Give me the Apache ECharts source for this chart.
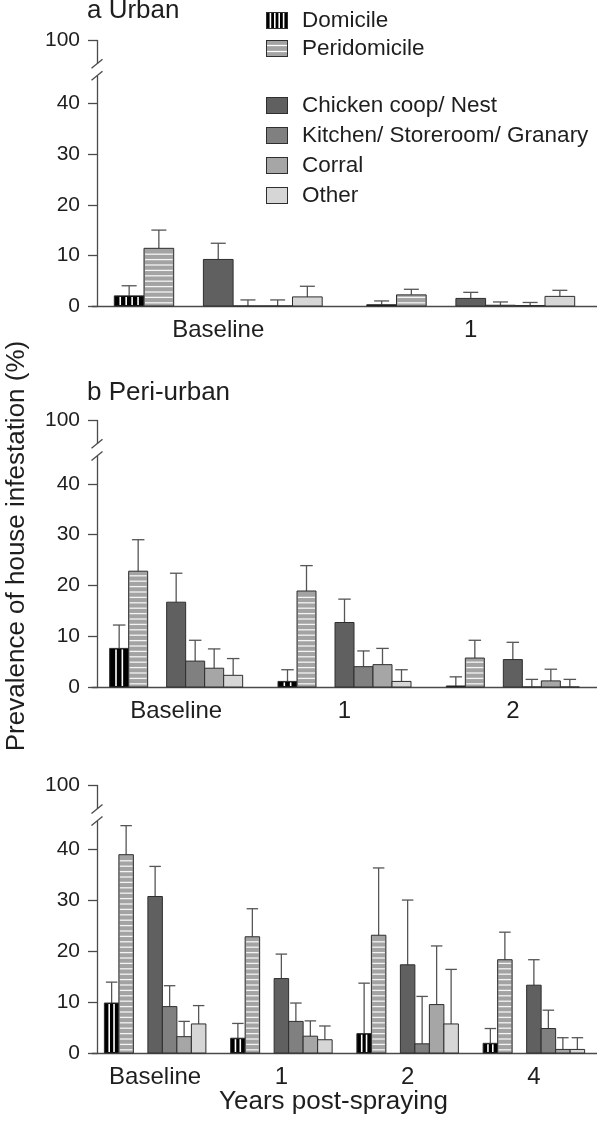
<!DOCTYPE html>
<html><head><meta charset="utf-8">
<script src="https://cdn.jsdelivr.net/npm/echarts@6/dist/echarts.min.js"></script>
<style>html,body{margin:0;padding:0;background:#fff}#c{width:597px;height:1122px}</style>
</head><body><div id="c"></div>
<script>
// ---------- DATA ----------
const seriesNames = ['Domicile', 'Peridomicile', 'Chicken coop/ Nest', 'Kitchen/ Storeroom/ Granary', 'Corral', 'Other'];
const panelTitles = ['a Urban', 'b Peri-urban', ''];
const urbanCategories = ['Baseline', '1'];
const periCategories = ['Baseline', '1', '2'];
const ruralCategories = ['Baseline', '1', '2', '4'];
const yTickValues = [0, 10, 20, 30, 40, 100];
const yAxisLabel = 'Prevalence of house infestation (%)';
const xAxisLabel = 'Years post-spraying';

// a Urban: mean and upper error limit
const urbanDomicile = [2.0, 0.25];        const urbanDomicileUp = [4.0, 1.0];
const urbanPeridomicile = [11.4, 2.2];    const urbanPeridomicileUp = [15.0, 3.3];
const urbanCoop = [9.2, 1.5];             const urbanCoopUp = [12.4, 2.7];
const urbanKitchen = [0, 0.15];           const urbanKitchenUp = [1.2, 0.8];
const urbanCorral = [0, 0.1];             const urbanCorralUp = [1.2, 0.7];
const urbanOther = [1.8, 1.9];            const urbanOtherUp = [3.9, 3.1];

// b Peri-urban
const periDomicile = [7.6, 1.1, 0.2];     const periDomicileUp = [12.2, 3.4, 2.0];
const periPeridomicile = [22.8, 18.9, 5.7]; const periPeridomicileUp = [29.0, 23.9, 9.2];
const periCoop = [16.7, 12.7, 5.4];       const periCoopUp = [22.4, 17.3, 8.8];
const periKitchen = [5.1, 4.0, 0];        const periKitchenUp = [9.2, 7.1, 1.5];
const periCorral = [3.7, 4.4, 1.2];       const periCorralUp = [7.5, 7.6, 3.5];
const periOther = [2.3, 1.1, 0];          const periOtherUp = [5.6, 3.4, 1.5];

// c (third panel)
const ruralDomicile = [9.8, 2.9, 3.8, 1.9];     const ruralDomicileUp = [13.9, 5.8, 13.7, 4.8];
const ruralPeridomicile = [38.9, 22.8, 23.1, 18.3]; const ruralPeridomicileUp = [44.6, 28.3, 36.3, 23.7];
const ruralCoop = [30.7, 14.6, 17.3, 13.3];     const ruralCoopUp = [36.6, 19.4, 30.0, 18.3];
const ruralKitchen = [9.1, 6.2, 1.8, 4.8];      const ruralKitchenUp = [13.2, 9.8, 11.1, 8.4];
const ruralCorral = [3.2, 3.3, 9.5, 0.7];       const ruralCorralUp = [6.2, 6.3, 21.0, 3.0];
const ruralOther = [5.7, 2.6, 5.7, 0.7];        const ruralOtherUp = [9.3, 5.3, 16.4, 3.0];

const breakStart = 45.5, breakEnd = 95.3, breakGap = 2.37;

// ---------- STYLE / LAYOUT ----------
const FONT = '"Liberation Sans", Arial, sans-serif';
const TXT = '#1e1e1e';
const AX = '#4a4a4a';
const gridLeft = 92, gridWidth = 508;
const panels = [
  { top: 40, height: 266, slot: 29.7, cap: 15, vStripes: 5, cats: urbanCategories,
    vals: [urbanDomicile, urbanPeridomicile, urbanCoop, urbanKitchen, urbanCorral, urbanOther],
    ups: [urbanDomicileUp, urbanPeridomicileUp, urbanCoopUp, urbanKitchenUp, urbanCorralUp, urbanOtherUp] },
  { top: 420, height: 267, slot: 19, cap: 12.5, vStripes: 3, cats: periCategories,
    vals: [periDomicile, periPeridomicile, periCoop, periKitchen, periCorral, periOther],
    ups: [periDomicileUp, periPeridomicileUp, periCoopUp, periKitchenUp, periCorralUp, periOtherUp] },
  { top: 785, height: 268, slot: 14.5, cap: 11.5, vStripes: 3, cats: ruralCategories,
    vals: [ruralDomicile, ruralPeridomicile, ruralCoop, ruralKitchen, ruralCorral, ruralOther],
    ups: [ruralDomicileUp, ruralPeridomicileUp, ruralCoopUp, ruralKitchenUp, ruralCorralUp, ruralOtherUp] }
];
const slotIndex = [-3, -2, 0, 1, 2, 3];
const kinds = ['v', 'h', 'p', 'p', 'p', 'p'];
const fills = ['#000000', '#a3a3a3', '#606060', '#808080', '#a6a6a6', '#d6d6d6'];

function makeRenderer(si, layout, kind, fill) {
  return function (params, api) {
    const idx = api.value(0), v = api.value(1), hi = api.value(2);
    const base = api.coord([idx, 0]);
    const top = api.coord([idx, v]);
    const up = api.coord([idx, hi]);
    const w = layout.slot;
    const cx = base[0] + si * w;
    const x0 = cx - w / 2;
    const h = base[1] - top[1];
    const ch = [];
    const eStyle = { stroke: '#555', lineWidth: 1.3 };
    ch.push({ type: 'line', shape: { x1: cx, y1: top[1], x2: cx, y2: up[1] }, style: eStyle });
    ch.push({ type: 'line', shape: { x1: cx - layout.cap / 2, y1: up[1], x2: cx + layout.cap / 2, y2: up[1] }, style: eStyle });
    ch.push({ type: 'rect', shape: { x: x0, y: top[1], width: w, height: h }, style: { fill: fill, stroke: '#2e2e2e', lineWidth: 1 } });
    if (kind === 'v' && h > 2) {
      const n = layout.vStripes;
      for (let k = 1; k < n; k++) {
        const x = x0 + k * w / n;
        ch.push({ type: 'line', shape: { x1: x, y1: top[1] + 1, x2: x, y2: base[1] - 1 }, style: { stroke: '#ffffff', lineWidth: 1.6 } });
      }
    }
    if (kind === 'h') {
      const sp = 5.4;
      for (let y = base[1] - sp / 2 - 0.5; y > top[1] + 1.5; y -= sp) {
        ch.push({ type: 'line', shape: { x1: x0 + 1, y1: y, x2: x0 + w - 1, y2: y }, style: { stroke: '#f4f4f4', lineWidth: 1.3 } });
      }
    }
    return { type: 'group', children: ch };
  };
}

function makeIcon(kind, fill) {
  const cv = document.createElement('canvas');
  cv.width = 44; cv.height = 34;
  const g = cv.getContext('2d');
  g.scale(2, 2);
  g.fillStyle = fill; g.fillRect(0, 0, 22, 17);
  g.strokeStyle = '#ffffff';
  if (kind === 'v') { g.lineWidth = 1.6; for (let k = 1; k < 5; k++) { const x = k * 22 / 5; g.beginPath(); g.moveTo(x, 1); g.lineTo(x, 16); g.stroke(); } }
  if (kind === 'h') { g.lineWidth = 1.3; [5.5, 11.5].forEach(y => { g.beginPath(); g.moveTo(1, y); g.lineTo(21, y); g.stroke(); }); }
  g.strokeStyle = '#2e2e2e'; g.lineWidth = 1; g.strokeRect(0.5, 0.5, 21, 16);
  return 'image://' + cv.toDataURL();
}

const grid = [], xAxis = [], yAxis = [], series = [];
panels.forEach((p, pi) => {
  grid.push({ left: gridLeft, width: gridWidth, top: p.top, height: p.height, containLabel: false });
  xAxis.push({
    type: 'category', gridIndex: pi, data: p.cats,
    axisLine: { lineStyle: { color: AX, width: 1.3 } },
    axisTick: { alignWithLabel: true, length: 8, lineStyle: { color: AX, width: 1.3 } },
    axisLabel: { fontSize: 24, color: TXT, fontFamily: FONT, margin: 12 },
    splitLine: { show: false }
  });
  yAxis.push({
    type: 'value', gridIndex: pi, min: 0, max: 100, interval: 10, offset: -5,
    breaks: [{ start: breakStart, end: breakEnd, gap: breakGap }],
    breakArea: { show: false },
    axisLine: { show: true, lineStyle: { color: AX, width: 1.3 } },
    axisTick: { show: true, length: 9, customValues: yTickValues, lineStyle: { color: AX, width: 1.3 } },
    axisLabel: { fontSize: 21, color: TXT, fontFamily: FONT, margin: 17, customValues: yTickValues, showMaxLabel: true },
    splitLine: { show: false }
  });
  seriesNames.forEach((name, si) => {
    series.push({
      type: 'custom', name: name, xAxisIndex: pi, yAxisIndex: pi,
      itemStyle: { color: fills[si] },
      encode: { x: 0, y: 1 },
      data: p.cats.map((c, i) => [i, p.vals[si][i], p.ups[si][i]]),
      renderItem: makeRenderer(slotIndex[si], p, kinds[si], fills[si]),
      clip: false, silent: true
    });
  });
});

const legendText = { fontSize: 22.5, color: TXT, fontFamily: FONT, padding: [0, 0, 0, 9] };
const chart = echarts.init(document.getElementById('c'), null, { renderer: 'canvas' });
chart.setOption({
  animation: false,
  backgroundColor: '#ffffff',
  grid, xAxis, yAxis, series,
  legend: [
    { orient: 'vertical', left: 266, top: 9, itemWidth: 22, itemHeight: 17, itemGap: 5, selectedMode: false, padding: 0,
      data: [0, 1].map(i => ({ name: seriesNames[i], icon: makeIcon(kinds[i], fills[i]) })), textStyle: legendText },
    { orient: 'vertical', left: 266, top: 94, itemWidth: 22, itemHeight: 17, itemGap: 7, selectedMode: false, padding: 0,
      data: [2, 3, 4, 5].map(i => ({ name: seriesNames[i], icon: makeIcon(kinds[i], fills[i]) })), textStyle: legendText }
  ]
});

// decorations: titles, axis names, axis-break marks
const gfx = [];
const titleY = [10.5, 393];
panelTitles.forEach((t, i) => {
  if (t) gfx.push({ type: 'text', x: 87, y: titleY[i], z: 100, style: { text: t, fontSize: 26, fontFamily: FONT, fill: TXT, textVerticalAlign: 'middle' } });
});
gfx.push({ type: 'text', x: 17, y: 546, rotation: Math.PI / 2, z: 100,
  style: { text: yAxisLabel, fontSize: 26, fontFamily: FONT, fill: TXT, textAlign: 'center', textVerticalAlign: 'middle' } });
gfx.push({ type: 'text', x: 333.5, y: 1102, z: 100,
  style: { text: xAxisLabel, fontSize: 26, fontFamily: FONT, fill: TXT, textAlign: 'center', textVerticalAlign: 'middle' } });
panels.forEach((p, i) => {
  const yLo = chart.convertToPixel({ yAxisIndex: i }, breakStart);
  const yHi = chart.convertToPixel({ yAxisIndex: i }, breakEnd);
  const ax = gridLeft + 5;
  gfx.push({ type: 'rect', z: 100, shape: { x: ax - 3, y: yHi, width: 6, height: yLo - yHi }, style: { fill: '#ffffff' } });
  [yHi, yLo].forEach(y => gfx.push({ type: 'line', z: 101, shape: { x1: ax - 5.5, y1: y + 4.5, x2: ax + 5.5, y2: y - 4.5 }, style: { stroke: AX, lineWidth: 1.3 } }));
});
chart.setOption({ graphic: gfx });
</script></body></html>
